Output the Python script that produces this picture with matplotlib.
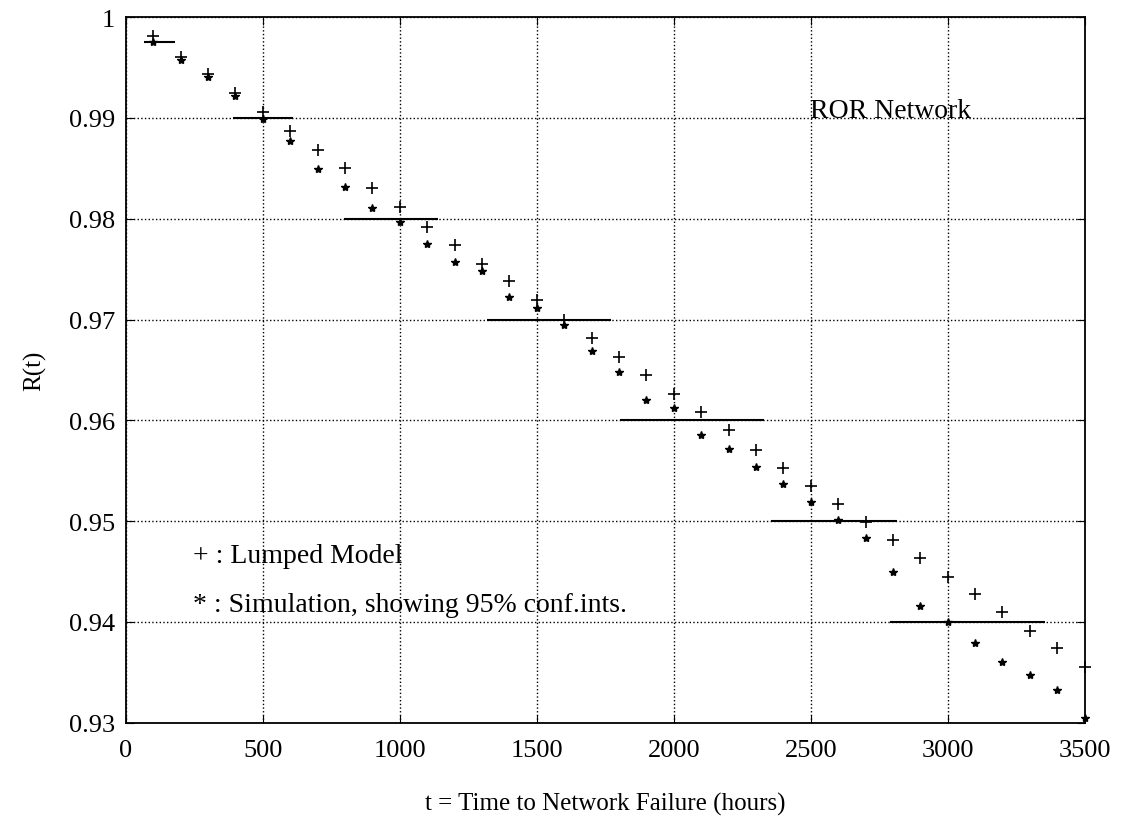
import numpy as np
import matplotlib
matplotlib.use("Agg")
import matplotlib.pyplot as plt

plt.rcParams['font.family'] = ['Liberation Serif', 'DejaVu Serif']

t = [100, 200, 300, 400, 500, 600, 700, 800, 900, 1000, 1100, 1200, 1300, 1400,
     1500, 1600, 1700, 1800, 1900, 2000, 2100, 2200, 2300, 2400, 2500, 2600,
     2700, 2800, 2900, 3000, 3100, 3200, 3300, 3400, 3500]
lumped = [0.9981, 0.9961, 0.9944, 0.9925, 0.9906, 0.9887, 0.9868, 0.9850, 0.9831,
          0.9812, 0.9792, 0.9774, 0.9755, 0.9738, 0.9719, 0.9700, 0.9682, 0.9663,
          0.9645, 0.9626, 0.9608, 0.9590, 0.9571, 0.9553, 0.9535, 0.9517, 0.9499,
          0.9481, 0.9463, 0.9445, 0.9428, 0.9410, 0.9391, 0.9374, 0.9355]
simulation = [0.9975, 0.9958, 0.9941, 0.9922, 0.9899, 0.9877, 0.9849, 0.9832, 0.9811,
              0.9797, 0.9775, 0.9757, 0.9748, 0.9722, 0.9711, 0.9695, 0.9669, 0.9648,
              0.9620, 0.9612, 0.9585, 0.9572, 0.9554, 0.9537, 0.9519, 0.9501, 0.9483,
              0.9450, 0.9416, 0.9400, 0.9379, 0.9360, 0.9347, 0.9332, 0.9305]

# horizontal segments
seg_y = [0.9975, 0.99, 0.98, 0.97, 0.96, 0.95, 0.94]
seg_start = [65, 390, 795, 1320, 1805, 2355, 2790]
seg_end = [180, 610, 1140, 1770, 2330, 2815, 3355]

fig = plt.figure(figsize=(11.24, 8.28), dpi=100)
ax = fig.add_axes([0.112, 0.126, 0.853, 0.852])

ax.hlines(seg_y, seg_start, seg_end, colors='k', linewidth=1.5)
ax.plot(t, lumped, '+', color='k', markersize=8, markeredgewidth=1.2, clip_on=False)
ax.plot(t, simulation, '*', color='k', markersize=6, clip_on=False)

ax.set_xlim(0, 3500)
ax.set_ylim(0.93, 1.0)
ax.set_xticks(np.arange(0, 3501, 500))
ax.set_yticks([0.93, 0.94, 0.95, 0.96, 0.97, 0.98, 0.99, 1.0])
ax.set_yticklabels(['0.93', '0.94', '0.95', '0.96', '0.97', '0.98', '0.99', '1'])
ax.grid(True, linestyle=':', color='k', linewidth=1)
ax.tick_params(direction='in', top=True, right=True, labelsize=19, length=6)
ax.tick_params(axis='x', pad=12)
ax.tick_params(axis='y', pad=8)
for s in ax.spines.values():
    s.set_linewidth(1.3)

ax.text(2496, 0.9901, 'ROR Network', fontsize=20, va='baseline')
ax.text(245, 0.9466, '+ : Lumped Model', fontsize=20, va='center')
ax.text(245, 0.9417, '* : Simulation, showing 95% conf.ints.', fontsize=20, va='center')

ax.set_xlabel('t = Time to Network Failure (hours)', fontsize=18, labelpad=22)
ax.set_ylabel('R(t)', fontsize=18, labelpad=16)

fig.savefig('out.png', dpi=100)
